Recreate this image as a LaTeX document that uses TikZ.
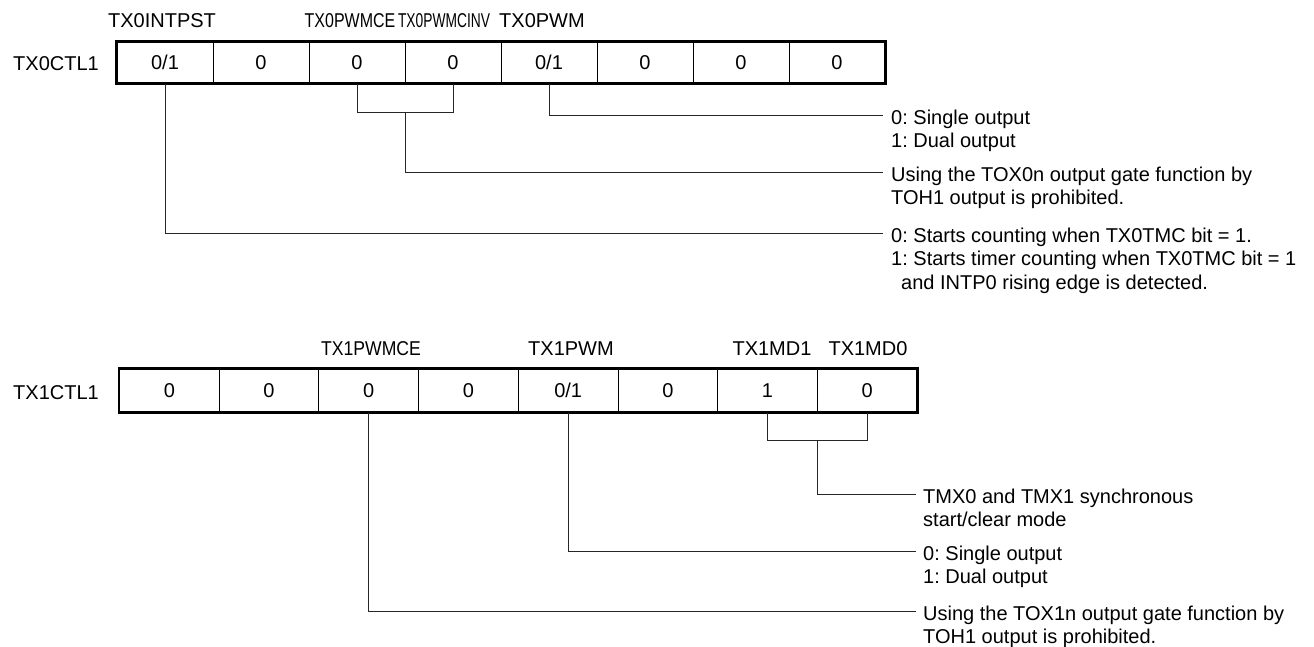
\documentclass[tikz,border=0pt]{standalone}
\usepackage{fontspec}
\setmainfont{Liberation Sans}
\usetikzlibrary{calc}
\frenchspacing
\begin{document}
\begin{tikzpicture}[x=1pt,y=-1pt,
  every node/.style={font=\fontsize{20}{23.5}\selectfont, inner sep=0pt},
  cellA/.style={draw, line width=1pt, minimum width=96pt, minimum height=41pt, text height=14.3pt, text depth=0pt},
  cellB/.style={draw, line width=1pt, minimum width=99.7pt, minimum height=43pt, text height=14.3pt, text depth=0pt},
  bitname/.style={text height=14.3pt, text depth=0pt},
  regname/.style={anchor=west, text height=14.3pt, text depth=0pt},
  desc/.style={anchor=north west, align=left},
  conn/.style={line width=1pt, black!85},
  frame/.style={line width=2.5pt}
]
\useasboundingbox (0,0) rectangle (1314,646);

% ---------- TX0CTL1 ----------
\node[regname] (r0) at (13,63) {TX0CTL1};
\node[cellA] (a1) at (165,62.5) {0/1};
\node[cellA] (a2) at (261,62.5) {0};
\node[cellA] (a3) at (357,62.5) {0};
\node[cellA] (a4) at (453,62.5) {0};
\node[cellA] (a5) at (549,62.5) {0/1};
\node[cellA] (a6) at (645,62.5) {0};
\node[cellA] (a7) at (741,62.5) {0};
\node[cellA] (a8) at (837,62.5) {0};
\draw[frame] (a1.north west) rectangle (a8.south east);

\node[bitname] (n1) at (162,20) {TX0INTPST};
\node[bitname] (n2) at (350,20) {\scalebox{0.8}[1]{TX0PWMCE}};
\node[bitname] (n3) at (444,20) {\scalebox{0.69}[1]{TX0PWMCINV}};
\node[bitname] (n4) at (542,20) {TX0PWM};

\node[desc] (d1) at (891,109) {\rule{0pt}{15pt}0: Single output\\1: Dual output};
\node[desc] (d2) at (891,166) {\rule{0pt}{15pt}Using the TOX0n output gate function by\\TOH1 output is prohibited.};
\node[desc] (d3) at (891,227) {\rule{0pt}{15pt}0: Starts counting when TX0TMC bit = 1.\\1: Starts timer counting when TX0TMC bit = 1\\\hspace*{10pt}and INTP0 rising edge is detected.};

\draw[conn] (a5.south) |- ($(d1.north west)+(-8,6)$);
\draw[conn] (a3.south) -- ++(0,29) -| (a4.south);
\coordinate (k0) at ($(a3.south)!0.5!(a4.south)+(0,29)$);
\draw[conn] (k0) |- ($(d2.north west)+(-8,6)$);
\draw[conn] (a1.south) |- ($(d3.north west)+(-8,6)$);

% ---------- TX1CTL1 ----------
\node[regname] (r1) at (13,392) {TX1CTL1};
\node[cellB] (b1) at (169.35,390.5) {0};
\node[cellB] (b2) at (269.05,390.5) {0};
\node[cellB] (b3) at (368.75,390.5) {0};
\node[cellB] (b4) at (468.45,390.5) {0};
\node[cellB] (b5) at (568.15,390.5) {0/1};
\node[cellB] (b6) at (667.85,390.5) {0};
\node[cellB] (b7) at (767.55,390.5) {1};
\node[cellB] (b8) at (867.25,390.5) {0};
\draw[frame] (b1.north west) rectangle (b8.south east);

\node[bitname] (m1) at (371,348) {\scalebox{0.88}[1]{TX1PWMCE}};
\node[bitname] (m2) at (571,348) {TX1PWM};
\node[bitname] (m3) at (772,348) {TX1MD1};
\node[bitname] (m4) at (868,348) {TX1MD0};

\node[desc] (e1) at (923,488) {\rule{0pt}{15pt}TMX0 and TMX1 synchronous\\start/clear mode};
\node[desc] (e2) at (923,545) {\rule{0pt}{15pt}0: Single output\\1: Dual output};
\node[desc] (e3) at (923,605) {\rule{0pt}{15pt}Using the TOX1n output gate function by\\TOH1 output is prohibited.};

\draw[conn] (b7.south) -- ++(0,28) -| (b8.south);
\coordinate (k1) at ($(b7.south)!0.5!(b8.south)+(0,28)$);
\draw[conn] (k1) |- ($(e1.north west)+(-7,6)$);
\draw[conn] (b5.south) |- ($(e2.north west)+(-7,6)$);
\draw[conn] (b3.south) |- ($(e3.north west)+(-7,6)$);
\end{tikzpicture}
\end{document}
